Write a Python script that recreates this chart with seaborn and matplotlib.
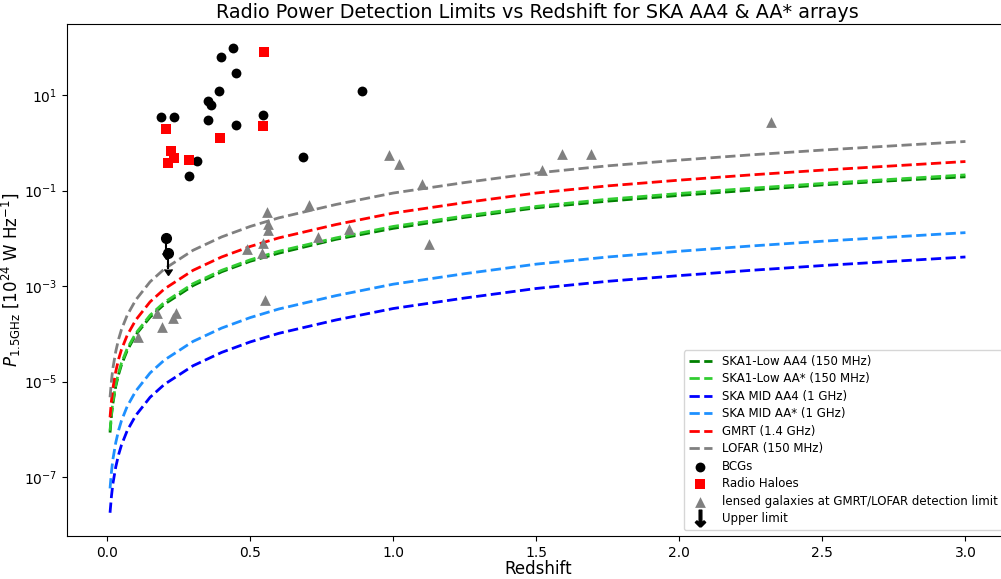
import numpy as np
import seaborn as sns
import matplotlib.pyplot as plt
from matplotlib.lines import Line2D
from matplotlib.ticker import NullLocator


# redshift grid of the detection-limit curves
curve_z = [0.01, 0.015, 0.02, 0.03, 0.04, 0.05, 0.07, 0.1, 0.15, 0.2, 0.3, 0.4,
           0.5, 0.6, 0.8, 1.0, 1.25, 1.5, 1.75, 2.0, 2.25, 2.5, 2.75, 3.0]

# log10 of the limiting power (10^24 W/Hz)
low_aa4_log = [-6.07, -5.71, -5.46, -5.10, -4.85, -4.65, -4.35, -4.02, -3.65, -3.38, -2.99, -2.70,
               -2.48, -2.31, -2.02, -1.79, -1.56, -1.36, -1.22, -1.10, -0.99, -0.88, -0.79, -0.71]
low_aastar_log = [-6.03, -5.68, -5.42, -5.07, -4.81, -4.61, -4.31, -3.99, -3.61, -3.34, -2.95, -2.67,
                  -2.45, -2.27, -1.99, -1.75, -1.53, -1.33, -1.18, -1.06, -0.95, -0.85, -0.76, -0.67]
mid_aa4_log = [-7.75, -7.40, -7.14, -6.79, -6.53, -6.33, -6.03, -5.71, -5.33, -5.06, -4.67, -4.39,
               -4.17, -3.99, -3.71, -3.47, -3.25, -3.05, -2.90, -2.78, -2.67, -2.57, -2.48, -2.39]
mid_aastar_log = [-7.24, -6.89, -6.63, -6.28, -6.02, -5.82, -5.52, -5.20, -4.82, -4.55, -4.16, -3.88,
                  -3.66, -3.48, -3.20, -2.96, -2.74, -2.54, -2.39, -2.27, -2.16, -2.06, -1.97, -1.88]
gmrt_log = [-5.75, -5.40, -5.14, -4.79, -4.53, -4.33, -4.03, -3.71, -3.33, -3.06, -2.67, -2.39,
            -2.17, -1.99, -1.71, -1.47, -1.25, -1.05, -0.90, -0.78, -0.67, -0.57, -0.48, -0.39]
lofar_log = [-5.33, -4.98, -4.72, -4.37, -4.11, -3.91, -3.61, -3.29, -2.91, -2.64, -2.25, -1.97,
             -1.75, -1.57, -1.29, -1.05, -0.83, -0.63, -0.48, -0.36, -0.25, -0.15, -0.06, 0.03]

# BCGs
bcg_z = [0.440, 0.399, 0.450, 0.391, 0.351, 0.362, 0.187, 0.234, 0.544, 0.351, 0.449,
         0.889, 0.685, 0.313, 0.287]
bcg_p = [98.0, 63.0, 28.5, 12.1, 7.6, 6.2, 3.46, 3.46, 3.76, 2.95, 2.32,
         12.1, 0.50, 0.415, 0.204]

# radio haloes
halo_z = [0.547, 0.205, 0.543, 0.395, 0.223, 0.232, 0.212, 0.287]
halo_p = [80.8, 1.97, 2.24, 1.28, 0.68, 0.486, 0.377, 0.43]

# lensed galaxies at GMRT/LOFAR detection limit
lensed_z = [0.986, 1.020, 1.099, 1.124, 1.519, 1.590, 1.690, 2.321, 0.557, 0.706,
            0.563, 0.563, 0.545, 0.487, 0.540, 0.738, 0.846, 0.551, 0.173, 0.240,
            0.229, 0.190, 0.106]
lensed_p = [0.553, 0.37, 0.137, 0.0078, 0.268, 0.58, 0.60, 2.68, 0.0355, 0.0497,
            0.0196, 0.0149, 0.0081, 0.0060, 0.0050, 0.0108, 0.0154, 0.00051, 0.00027, 0.000275,
            0.00021, 0.00014, 0.000087]

# upper limits
ul_z = [0.205, 0.211]
ul_p = [0.0100, 0.00484]
ul_err = [0.005, 0.0026]

curves = [
    (low_aa4_log, "SKA1-Low AA4 (150 MHz)", "green"),
    (low_aastar_log, "SKA1-Low AA* (150 MHz)", "limegreen"),
    (mid_aa4_log, "SKA MID AA4 (1 GHz)", "blue"),
    (mid_aastar_log, "SKA MID AA* (1 GHz)", "dodgerblue"),
    (gmrt_log, "GMRT (1.4 GHz)", "red"),
    (lofar_log, "LOFAR (150 MHz)", "gray"),
]


def main() -> None:
    fig, ax = plt.subplots(figsize=(10.01, 5.79), dpi=100)
    ax.set_position([0.0672, 0.0743, 0.94, 0.8842])

    for values, label, color in curves:
        sns.lineplot(x=curve_z, y=10 ** np.array(values), ax=ax, color=color,
                     linestyle="--", linewidth=2, label=label)

    sns.scatterplot(x=bcg_z, y=bcg_p, ax=ax, color="black", marker="o", s=50,
                    linewidth=0, label="BCGs", zorder=3)
    sns.scatterplot(x=halo_z, y=halo_p, ax=ax, color="red", marker="s", s=50,
                    linewidth=0, label="Radio Haloes", zorder=3)
    sns.scatterplot(x=lensed_z, y=lensed_p, ax=ax, color="gray", marker="^", s=60,
                    linewidth=0, label="lensed galaxies at GMRT/LOFAR detection limit", zorder=3)
    ax.errorbar(ul_z, ul_p, yerr=ul_err, uplims=True, fmt="o", color="black",
                markersize=7, elinewidth=1.5, zorder=4)

    ax.set_yscale("log")
    ax.set_xlim(-0.1395, 3.1495)
    ax.set_ylim(5.8e-9, 3.1e2)
    ax.set_yticks([1e-7, 1e-5, 1e-3, 1e-1, 1e1])
    ax.yaxis.set_minor_locator(NullLocator())

    ax.set_title("Radio Power Detection Limits vs Redshift for SKA AA4 & AA* arrays",
                 fontsize=13.8, pad=4)
    ax.set_xlabel("Redshift", fontsize=12, labelpad=0)
    ax.set_ylabel(r"$P_{\rm 1.5GHz}$ [$10^{24}$ W Hz$^{-1}$]", fontsize=12)
    ax.yaxis.set_label_coords(-0.047, 0.5)

    handles, labels = ax.get_legend_handles_labels()
    handles.append(Line2D([0], [0], marker=r"$\mathbf{\downarrow}$", color="black",
                          linestyle="None", markersize=12))
    labels.append("Upper limit")
    ax.legend(handles, labels, loc="lower right", fontsize=8.5, labelspacing=0.38)

    fig.savefig("out.png", dpi=100)
    plt.close(fig)


if __name__ == "__main__":
    main()
